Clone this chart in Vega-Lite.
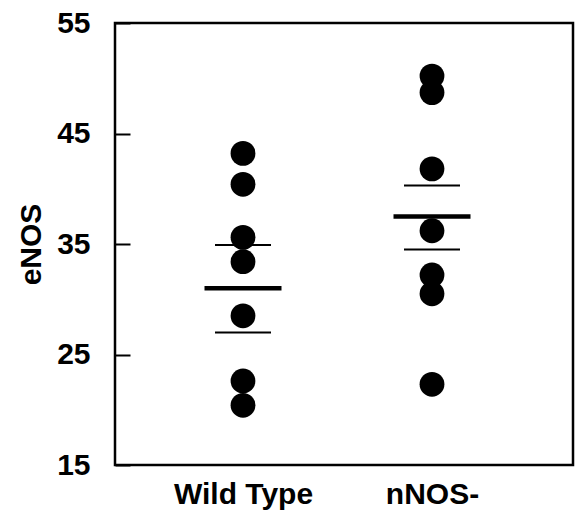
{
  "$schema": "https://vega.github.io/schema/vega-lite/v6.json",
  "width": 458,
  "height": 442,
  "autosize": "none",
  "padding": {"left": 115, "top": 23, "right": 4, "bottom": 53},
  "background": "white",
  "config": {
    "view": {"stroke": "black", "strokeWidth": 2.5},
    "font": "Liberation Sans"
  },
  "datasets": {
    "points": [
      {"group": "Wild Type", "eNOS": 43.2},
      {"group": "Wild Type", "eNOS": 40.4},
      {"group": "Wild Type", "eNOS": 35.6},
      {"group": "Wild Type", "eNOS": 33.4},
      {"group": "Wild Type", "eNOS": 28.5},
      {"group": "Wild Type", "eNOS": 22.6},
      {"group": "Wild Type", "eNOS": 20.4},
      {"group": "nNOS-", "eNOS": 50.2},
      {"group": "nNOS-", "eNOS": 48.7},
      {"group": "nNOS-", "eNOS": 41.8},
      {"group": "nNOS-", "eNOS": 36.2},
      {"group": "nNOS-", "eNOS": 32.2},
      {"group": "nNOS-", "eNOS": 30.5},
      {"group": "nNOS-", "eNOS": 22.3}
    ],
    "means": [
      {"group": "Wild Type", "eNOS": 31.0},
      {"group": "nNOS-", "eNOS": 37.5}
    ],
    "se": [
      {"group": "Wild Type", "eNOS": 34.9},
      {"group": "Wild Type", "eNOS": 27.0},
      {"group": "nNOS-", "eNOS": 40.3},
      {"group": "nNOS-", "eNOS": 34.5}
    ]
  },
  "encoding": {
    "x": {
      "field": "group",
      "type": "nominal",
      "scale": {"type": "point", "domain": ["Wild Type", "nNOS-"], "range": [128, 317], "padding": 0},
      "axis": {
        "title": null,
        "labelAngle": 0,
        "ticks": false,
        "domain": false,
        "grid": false,
        "labelFont": "Liberation Sans",
        "labelFontWeight": "bold",
        "labelFontSize": 30,
        "labelColor": "black",
        "labelPadding": 14
      }
    },
    "y": {
      "field": "eNOS",
      "type": "quantitative",
      "scale": {"domain": [15, 55], "nice": false, "zero": false},
      "axis": {
        "values": [15, 25, 35, 45, 55],
        "title": "eNOS",
        "domain": false,
        "grid": false,
        "tickSize": -15,
        "tickWidth": 2,
        "tickColor": "black",
        "labelFont": "Liberation Sans",
        "labelFontWeight": "bold",
        "labelFontSize": 30,
        "labelColor": "black",
        "labelPadding": 40,
        "titleFont": "Liberation Sans",
        "titleFontWeight": "bold",
        "titleFontSize": 30,
        "titleColor": "black",
        "titlePadding": 10
      }
    }
  },
  "layer": [
    {
      "data": {"name": "points"},
      "mark": {"type": "circle", "size": 615, "color": "black", "opacity": 1}
    },
    {
      "data": {"name": "means"},
      "mark": {"type": "tick", "size": 77, "thickness": 4.5, "color": "black", "opacity": 1}
    },
    {
      "data": {"name": "se"},
      "mark": {"type": "tick", "size": 56, "thickness": 2, "color": "black", "opacity": 1}
    }
  ]
}
